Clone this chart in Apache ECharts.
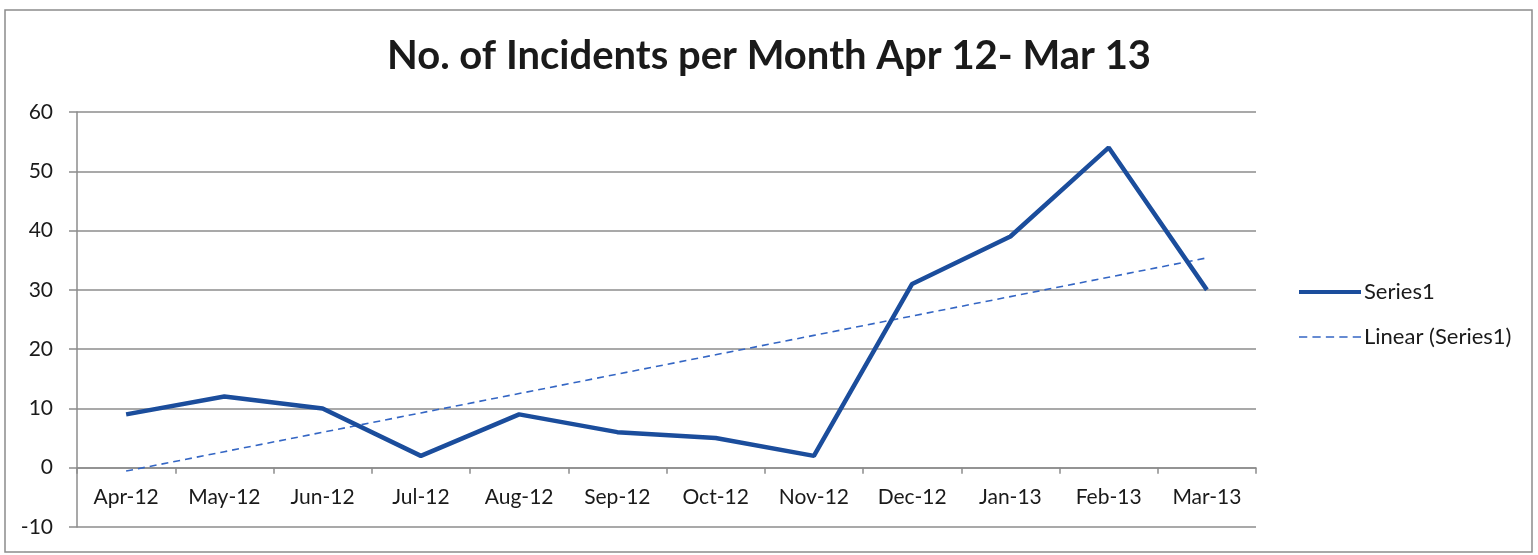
<!DOCTYPE html>
<html>
<head>
<meta charset="utf-8">
<script src="https://cdn.jsdelivr.net/npm/echarts@6/dist/echarts.min.js"></script>
<style>
  html, body { margin: 0; padding: 0; background: #fff; }
  #chart { width: 1538px; height: 555px; }
</style>
</head>
<body>
<div id="chart"></div>
<script>
// Monthly incident counts
const months = ['Apr-12', 'May-12', 'Jun-12', 'Jul-12', 'Aug-12', 'Sep-12',
                'Oct-12', 'Nov-12', 'Dec-12', 'Jan-13', 'Feb-13', 'Mar-13'];
const incidents = [9, 12, 10, 2, 9, 6, 5, 2, 31, 39, 54, 30];
const yTicks = [-10, 0, 10, 20, 30, 40, 50, 60];

// Least-squares linear trend over the month index (1..n)
function linearTrend(values) {
  const n = values.length;
  let sx = 0, sy = 0, sxy = 0, sxx = 0;
  values.forEach((y, i) => {
    const x = i + 1;
    sx += x; sy += y; sxy += x * y; sxx += x * x;
  });
  const slope = (n * sxy - sx * sy) / (n * sxx - sx * sx);
  const intercept = (sy - slope * sx) / n;
  return values.map((_, i) => +(intercept + slope * (i + 1)).toFixed(3));
}
const trend = linearTrend(incidents);

const font = 'Lato, "Open Sans", sans-serif';
const lineBlue = '#1b4d9c';
const trendBlue = '#3466c4';
const gridGrey = '#8c8c8c';

// legend keys: a solid bar and a row of five dashes, same box width
const solidKey = 'path://M0,0 L62,0 L62,4 L0,4 Z';
const dashKey = 'path://M0,0h8v1.6h-8z M13,0h8v1.6h-8z M26,0h8v1.6h-8z M39,0h8v1.6h-8z M52,0h8v1.6h-8z';

const chart = echarts.init(document.getElementById('chart'), null, { renderer: 'canvas' });
chart.setOption({
  backgroundColor: '#ffffff',
  animation: false,
  title: {
    text: 'No. of Incidents per Month Apr 12- Mar 13',
    left: 'center',
    top: 31,
    textStyle: { fontFamily: font, fontWeight: 'bold', fontSize: 40, color: '#1a1a1a' }
  },
  graphic: [{
    type: 'rect',
    shape: { x: 5, y: 10, width: 1527, height: 542 },
    style: { fill: 'none', stroke: gridGrey, lineWidth: 1.5 },
    silent: true,
    z: -1
  }],
  legend: {
    orient: 'vertical',
    left: 1294,
    top: 276,
    itemWidth: 62,
    itemHeight: 14,
    itemGap: 23,
    textStyle: { fontFamily: font, fontSize: 22, color: '#1a1a1a', padding: [0, 0, 0, -2] },
    data: [
      { name: 'Series1', icon: solidKey, itemStyle: { color: lineBlue } },
      { name: 'Linear (Series1)', icon: dashKey, itemStyle: { color: trendBlue } }
    ]
  },
  grid: { left: 77, right: 282, top: 112, bottom: 28, containLabel: false, outerBoundsMode: 'none' },
  xAxis: {
    type: 'category',
    data: months,
    boundaryGap: true,
    axisLine: { onZero: true, lineStyle: { color: gridGrey, width: 1.5 } },
    axisTick: { show: true, length: 6, lineStyle: { color: gridGrey, width: 1.5 } },
    axisLabel: { fontFamily: font, fontSize: 21, color: '#1a1a1a', margin: -40 },
    splitLine: { show: false }
  },
  yAxis: {
    type: 'value',
    min: yTicks[0],
    max: yTicks[yTicks.length - 1],
    interval: 10,
    axisLine: { show: true, lineStyle: { color: gridGrey, width: 1.5 } },
    axisTick: { show: true, length: 8, lineStyle: { color: gridGrey, width: 1.5 } },
    axisLabel: { fontFamily: font, fontSize: 21, color: '#1a1a1a', margin: 24 },
    splitLine: { show: true, lineStyle: { color: gridGrey, width: 1.5 } }
  },
  series: [
    {
      name: 'Series1',
      type: 'line',
      data: incidents,
      symbol: 'none',
      lineStyle: { color: lineBlue, width: 4.5 },
      itemStyle: { color: lineBlue },
      z: 3
    },
    {
      name: 'Linear (Series1)',
      type: 'line',
      data: trend,
      symbol: 'none',
      lineStyle: { color: trendBlue, width: 1.6, type: [7, 5] },
      itemStyle: { color: trendBlue },
      z: 2
    }
  ]
});
</script>
</body>
</html>
